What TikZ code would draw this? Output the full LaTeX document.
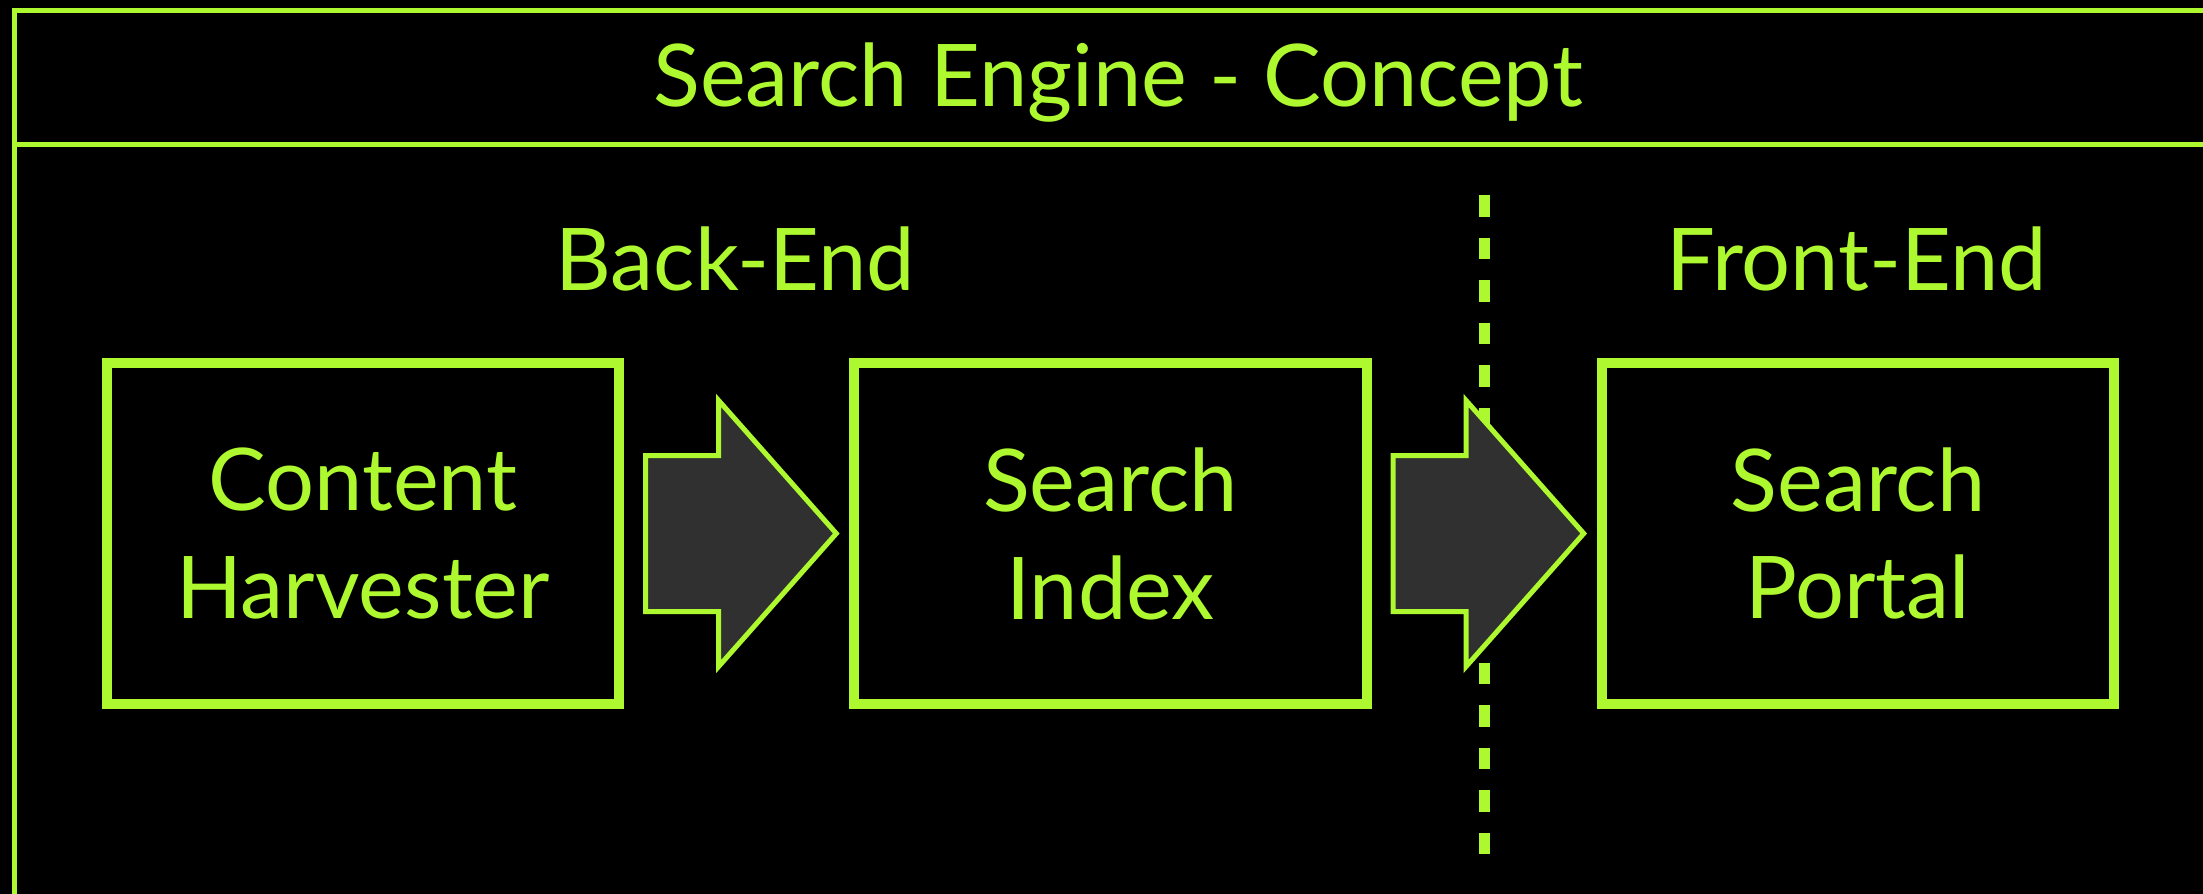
\documentclass[tikz,border=0pt]{standalone}
\usepackage{fontspec}
\setmainfont{Lato}
\usetikzlibrary{positioning,calc}
\definecolor{limegreen}{RGB}{174,248,47}
\definecolor{arrowgray}{RGB}{48,48,48}

\begin{document}
\begin{tikzpicture}[
      x=0.01cm, y=-0.01cm,
      stagebox/.style={
         draw=limegreen,
         line width=0.1cm,
         minimum width=5.12cm,
         minimum height=3.41cm,
         outer sep=0pt,
         align=center,
         text=limegreen,
         font=\fontsize{24.6}{30.7}\selectfont},
      heading/.style={
         text=limegreen,
         inner sep=0pt,
         font=\fontsize{24.6}{30.7}\selectfont},
      frameline/.style={draw=limegreen, line width=0.05cm, line join=miter},
      bigarrow/.style={draw=limegreen, fill=arrowgray, line width=0.05cm, line join=miter},
      divider/.style={draw=limegreen, line width=0.105cm, dash pattern=on 0.215cm off 0.21cm},
      node distance=2.35cm and 2.35cm
      ]
      \fill[black] (0,0) rectangle (2203,894);
      \useasboundingbox (0,0) rectangle (2203,894);

      % frame and title bar
      \draw[frameline] (14.5,900) -- (14.5,11) -- (2210,11);
      \draw[frameline] (14.5,144.5) -- (2210,144.5);
      \node[heading, anchor=base] (title) at (1118,107) {Search Engine - Concept};

      % stages
      \node[stagebox] (harvester) at (363,533.5) {Content\\Harvester};
      \node[stagebox, right=of harvester] (index) {Search\\Index};
      \node[stagebox, right=of index] (portal) {Search\\Portal};

      \node[heading, anchor=base] (backend) at (735,291) {Back-End};
      \node[heading, anchor=base] (frontend) at (1857,291) {Front-End};

      % back-end / front-end split
      \draw[divider] (1484.5,195) -- (1484.5,857);

    \foreach \a/\b in {harvester/index, index/portal}
      \draw[bigarrow] ($(\a.east)+(26.5,-78)$) -- ++(73,0) -- ++(0,-55)
         -- ($(\b.west)+(-18,0)$) -- ($(\a.east)+(99.5,133)$) -- ++(0,-55)
         -- ++(-73,0) -- cycle;

\end{tikzpicture}
\end{document}
